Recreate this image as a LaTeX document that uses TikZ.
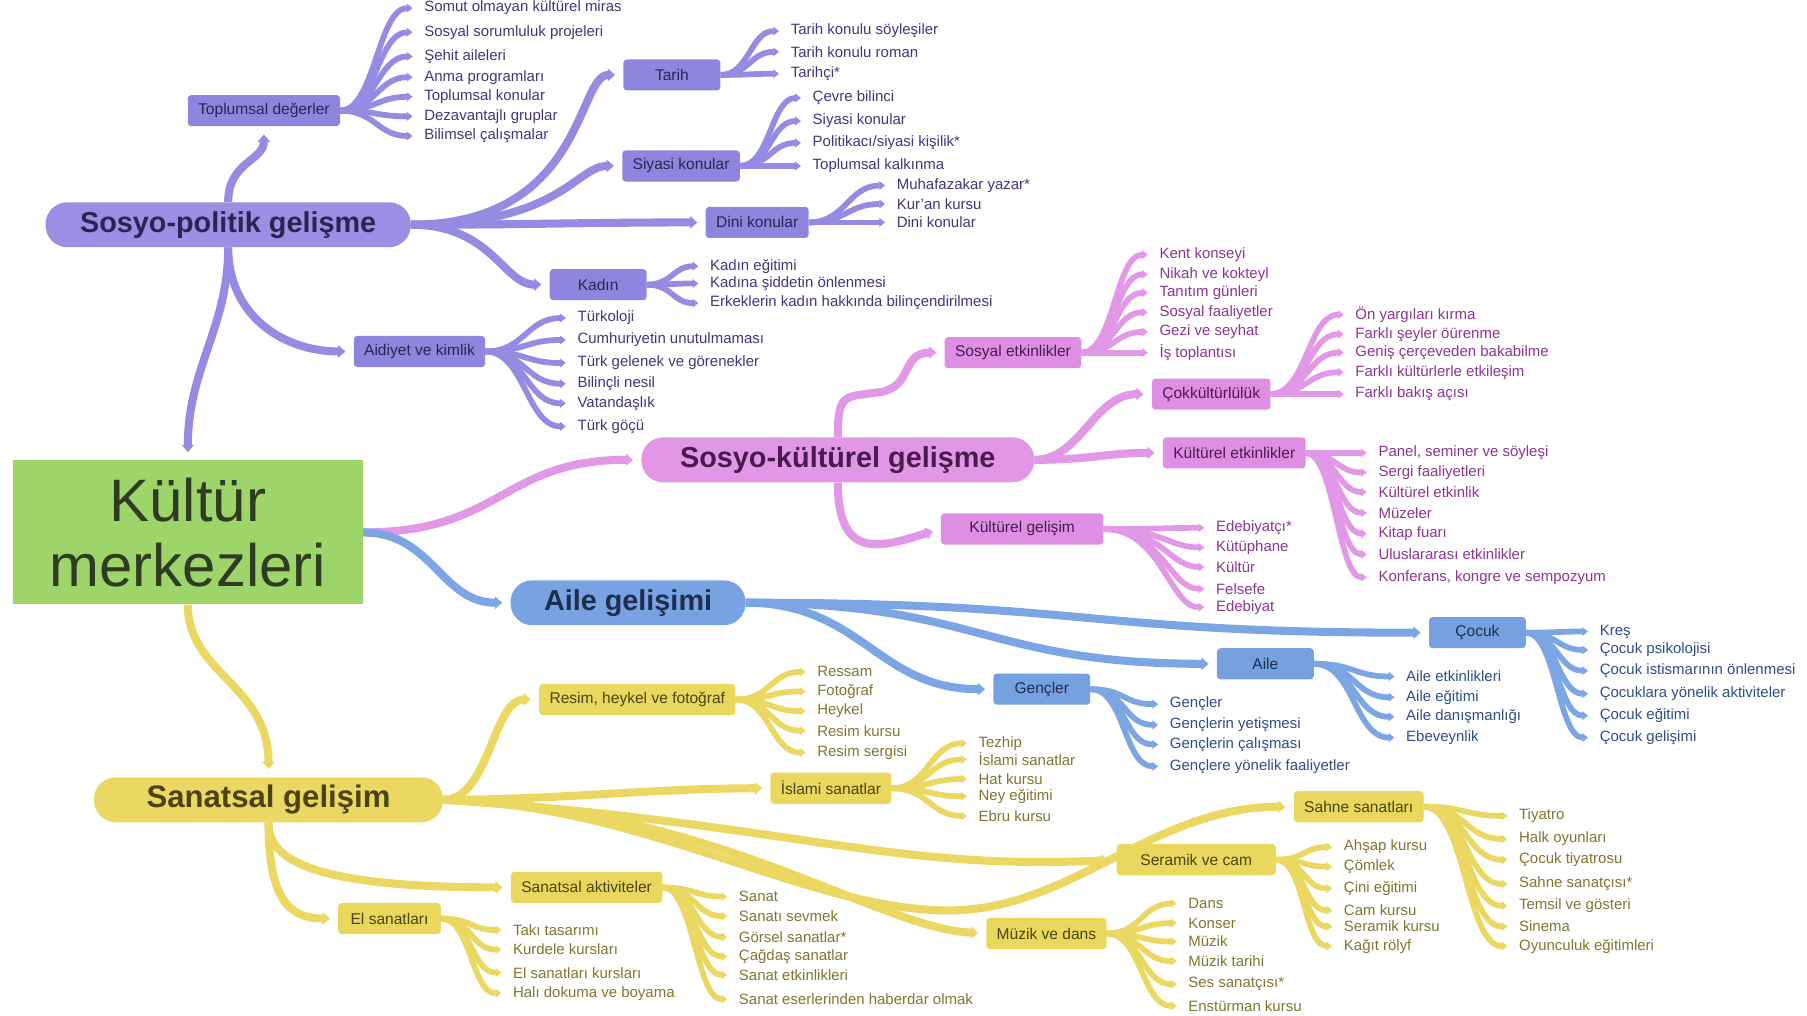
\documentclass[tikz,border=0pt]{standalone}
\usepackage{fontspec}
\setmainfont{Liberation Sans}
\usetikzlibrary{arrows.meta}

\definecolor{pfill}{HTML}{9A8FE4}
\definecolor{pbox}{HTML}{8F85DF}
\definecolor{pline}{HTML}{958BE2}
\definecolor{ptxt}{HTML}{3D3878}
\definecolor{pdark}{HTML}{2A2550}
\definecolor{kfill}{HTML}{E196E6}
\definecolor{kbox}{HTML}{DE8FE3}
\definecolor{kline}{HTML}{E199E7}
\definecolor{ktxt}{HTML}{8C3590}
\definecolor{kdark}{HTML}{4A1A4C}
\definecolor{bfill}{HTML}{78A2E2}
\definecolor{bbox}{HTML}{76A1E1}
\definecolor{bline}{HTML}{7BA6E3}
\definecolor{btxt}{HTML}{2F4D85}
\definecolor{bdark}{HTML}{1E2E4E}
\definecolor{yfill}{HTML}{EAD862}
\definecolor{ybox}{HTML}{EAD75E}
\definecolor{yline}{HTML}{EAD862}
\definecolor{ytxt}{HTML}{807530}
\definecolor{ydark}{HTML}{4A4412}
\definecolor{gfill}{HTML}{9DD56B}
\definecolor{gdark}{HTML}{2F3B22}

\tikzset{
  box/.style 2 args={fill=#1,text=#2,rounded corners=3pt,minimum width=84pt,minimum height=27pt,inner xsep=9pt,font=\fontsize{13.5}{15}\selectfont},
  pb/.style={box={pbox}{pdark}},
  kb/.style={box={kbox}{kdark}},
  bb/.style={box={bbox}{bdark}},
  yb/.style={box={ybox}{ydark}},
  pill/.style 2 args={fill=#1,text=#2,rounded corners=19pt,minimum height=39pt,font=\fontsize{25}{28}\selectfont\bfseries},
  leaf/.style={anchor=west,inner xsep=10pt,inner ysep=1pt,text=#1,font=\fontsize{13}{15}\selectfont},
  branch/.style={draw=#1,line width=7pt,shorten >=7pt,-{Triangle[length=0pt 0.9,width=0pt 1.5]}},
  twig/.style={draw=#1,line width=5pt,-{Triangle[length=0pt 1,width=0pt 1.5]}},
}

\begin{document}
\begin{tikzpicture}[x=1pt,y=-1pt]
\useasboundingbox (0,0) rectangle (1568,881);

% centre and main topics
\node[fill=gfill,text=gdark,minimum width=304pt,minimum height=125pt,align=center,font=\fontsize{52}{57}\selectfont] (merkez) at (163,462) {Kültür\\merkezleri};
\node[pill={pfill}{pdark},minimum width=317pt] (sospol) at (198,195) {Sosyo-politik gelişme};
\node[pill={kfill}{kdark},minimum width=341pt] (soskul) at (727,399) {Sosyo-kültürel gelişme};
\node[pill={bfill}{bdark},minimum width=204pt] (ailegel) at (545,523) {Aile gelişimi};
\node[pill={yfill}{ydark},minimum width=303pt,font=\fontsize{27}{30}\selectfont\bfseries] (sanat) at (233,694) {Sanatsal gelişim};

\draw[branch=pline] (sospol.south) .. controls +(0,70) and +(0,-80) .. (merkez.north);
\draw[branch=kline] (merkez.east) .. controls +(120,0) and +(-120,0) .. (soskul.west);
\draw[branch=bline] (merkez.east) .. controls +(60,0) and +(-60,0) .. (ailegel.west);
\draw[branch=yline] (merkez.south) .. controls +(0,60) and +(0,-80) .. (sanat.north);

% sosyo-politik
\node[pb] (toplumsal) at (229,96) {Toplumsal değerler};
\node[pb] (tarih) at (583,65) {Tarih};
\node[pb] (siyasi) at (591,144) {Siyasi konular};
\node[pb] (dini) at (657,193) {Dini konular};
\node[pb] (kadin) at (519,247) {Kadın};
\node[pb] (aidiyet) at (364,305) {Aidiyet ve kimlik};

\draw[branch=pline] (sospol.north) .. controls +(0,-35) and +(0,30) .. (toplumsal.south);
\draw[branch=pline] (sospol.east) .. controls +(150,0) and +(-40,0) .. (tarih.west);
\draw[branch=pline] (sospol.east) .. controls +(130,0) and +(-40,0) .. (siyasi.west);
\draw[branch=pline] (sospol.east) .. controls +(100,0) and +(-100,0) .. (dini.west);
\draw[branch=pline] (sospol.east) .. controls +(70,0) and +(-40,0) .. (kadin.west);
\draw[branch=pline] (sospol.south) .. controls +(0,60) and +(-60,0) .. (aidiyet.west);

\foreach \t/\y [count=\i] in {Somut olmayan kültürel miras/7,Sosyal sorumluluk projeleri/28,Şehit aileleri/49,Anma programları/67,Toplumsal konular/84,Dezavantajlı gruplar/101,Bilimsel çalışmalar/118}{
  \node[leaf=ptxt] (toplumsal-\i) at (358,\y) {\t};
  \draw[twig=pline] (toplumsal.east) .. controls +(30,0) and +(-30,0) .. (toplumsal-\i.west);
}
\foreach \t/\y [count=\i] in {Tarih konulu söyleşiler/27,Tarih konulu roman/45,Tarihçi*/64}{
  \node[leaf=ptxt] (tarih-\i) at (676,\y) {\t};
  \draw[twig=pline] (tarih.east) .. controls +(25,0) and +(-25,0) .. (tarih-\i.west);
}
\foreach \t/\y [count=\i] in {Çevre bilinci/85,Siyasi konular/105,{Politikacı/siyasi kişilik*}/124,Toplumsal kalkınma/144}{
  \node[leaf=ptxt] (siyasi-\i) at (695,\y) {\t};
  \draw[twig=pline] (siyasi.east) .. controls +(26,0) and +(-26,0) .. (siyasi-\i.west);
}
\foreach \t/\y [count=\i] in {Muhafazakar yazar*/161,Kur'an kursu/177,Dini konular/193}{
  \node[leaf=ptxt] (dini-\i) at (768,\y) {\t};
  \draw[twig=pline] (dini.east) .. controls +(32,0) and +(-32,0) .. (dini-\i.west);
}
\foreach \t/\y [count=\i] in {Kadın eğitimi/231,Kadına şiddetin önlenmesi/246,Erkeklerin kadın hakkında bilinçendirilmesi/263}{
  \node[leaf=ptxt] (kadin-\i) at (606,\y) {\t};
  \draw[twig=pline] (kadin.east) .. controls +(22,0) and +(-22,0) .. (kadin-\i.west);
}
\foreach \t/\y [count=\i] in {Türkoloji/276,Cumhuriyetin unutulmaması/295,Türk gelenek ve görenekler/315,Bilinçli nesil/333,Vatandaşlık/350,Türk göçü/370}{
  \node[leaf=ptxt] (aidiyet-\i) at (491,\y) {\t};
  \draw[twig=pline] (aidiyet.east) .. controls +(34,0) and +(-34,0) .. (aidiyet-\i.west);
}

% sosyo-kulturel
\node[kb] (sosyal) at (879,306) {Sosyal etkinlikler};
\node[kb] (cokkultur) at (1051,342) {Çokkültürlülük};
\node[kb] (kultetk) at (1071,393) {Kültürel etkinlikler};
\node[kb,minimum width=141pt] (kultgel) at (887,459) {Kültürel gelişim};

\draw[branch=kline] (soskul.north) .. controls +(0,-40) and (733,345) .. (765,340) .. controls (792,335) and (782,306) .. (sosyal.west);
\draw[branch=kline] (soskul.east) .. controls +(40,0) and +(-50,0) .. (cokkultur.west);
\draw[branch=kline] (soskul.east) .. controls +(50,0) and +(-50,0) .. (kultetk.west);
\draw[branch=kline] (soskul.south) .. controls +(0,70) and +(-50,15) .. (kultgel.west);

\foreach \t/\y [count=\i] in {Kent konseyi/221,Nikah ve kokteyl/238,Tanıtım günleri/254,Sosyal faaliyetler/271,Gezi ve seyhat/288,İş toplantısı/306}{
  \node[leaf=ktxt] (sosyal-\i) at (996,\y) {\t};
  \draw[twig=kline] (sosyal.east) .. controls +(28,0) and +(-28,0) .. (sosyal-\i.west);
}
\foreach \t/\y [count=\i] in {Ön yargıları kırma/273,Farklı şeyler öürenme/290,Geniş çerçeveden bakabilme/306,Farklı kültürlerle etkileşim/323,Farklı bakış açısı/342}{
  \node[leaf=ktxt] (cokkultur-\i) at (1166,\y) {\t};
  \draw[twig=kline] (cokkultur.east) .. controls +(31,0) and +(-31,0) .. (cokkultur-\i.west);
}
\foreach \t/\y [count=\i] in {{Panel, seminer ve söyleşi}/393,Sergi faaliyetleri/410,Kültürel etkinlik/427,Müzeler/445,Kitap fuarı/463,Uluslararası etkinlikler/481,{Konferans, kongre ve sempozyum}/501}{
  \node[leaf=ktxt] (kultetk-\i) at (1186,\y) {\t};
  \draw[twig=kline] (kultetk.east) .. controls +(25,0) and +(-25,0) .. (kultetk-\i.west);
}
\foreach \t/\y [count=\i] in {Edebiyatçı*/458,Kütüphane/475,Kültür/492,Felsefe/511,Edebiyat/527}{
  \node[leaf=ktxt] (kultgel-\i) at (1045,\y) {\t};
  \draw[twig=kline] (kultgel.east) .. controls +(50,0) and +(-30,0) .. (kultgel-\i.west);
}

% aile
\node[bb] (cocuk) at (1282,549) {Çocuk};
\node[bb] (aile) at (1098,576) {Aile};
\node[bb] (gencler) at (904,598) {Gençler};

\draw[branch=bline] (ailegel.east) .. controls +(300,0) and +(-300,0) .. (cocuk.west);
\draw[branch=bline] (ailegel.east) .. controls +(200,0) and +(-200,0) .. (aile.west);
\draw[branch=bline] (ailegel.east) .. controls +(100,0) and +(-100,0) .. (gencler.west);

\foreach \t/\y [count=\i] in {Kreş/548,Çocuk psikolojisi/564,Çocuk istismarının önlenmesi/582,Çocuklara yönelik aktiviteler/602,Çocuk eğitimi/621,Çocuk gelişimi/640}{
  \node[leaf=btxt] (cocuk-\i) at (1378,\y) {\t};
  \draw[twig=bline] (cocuk.east) .. controls +(26,0) and +(-26,0) .. (cocuk-\i.west);
}
\foreach \t/\y [count=\i] in {Aile etkinlikleri/587,Aile eğitimi/605,Aile danışmanlığı/622,Ebeveynlik/640}{
  \node[leaf=btxt] (aile-\i) at (1210,\y) {\t};
  \draw[twig=bline] (aile.east) .. controls +(35,0) and +(-35,0) .. (aile-\i.west);
}
\foreach \t/\y [count=\i] in {Gençler/611,Gençlerin yetişmesi/629,Gençlerin çalışması/646,Gençlere yönelik faaliyetler/665}{
  \node[leaf=btxt] (gencler-\i) at (1005,\y) {\t};
  \draw[twig=bline] (gencler.east) .. controls +(30,0) and +(-30,0) .. (gencler-\i.west);
}

% sanatsal
\node[yb] (resim) at (553,607) {Resim, heykel ve fotoğraf};
\node[yb] (islami) at (721,684) {İslami sanatlar};
\node[yb] (sahne) at (1179,700) {Sahne sanatları};
\node[yb,minimum width=138pt] (seramik) at (1038,746) {Seramik ve cam};
\node[yb] (sanakt) at (509,770) {Sanatsal aktiviteler};
\node[yb,minimum width=89pt] (elsan) at (338,797) {El sanatları};
\node[yb] (muzik) at (908,810) {Müzik ve dans};

\draw[branch=yline] (sanat.east) .. controls +(40,0) and +(-40,0) .. (resim.west);
\draw[branch=yline] (sanat.east) .. controls +(100,0) and +(-100,0) .. (islami.west);
\draw[branch=yline] (sanat.east) .. controls (560,698) and (700,790) .. (823,790) .. controls (930,790) and (1000,700) .. (sahne.west);
\draw[branch=yline] (sanat.east) .. controls +(300,20) and +(-200,10) .. (seramik.west);
\draw[branch=yline] (sanat.east) .. controls +(235,6) and +(-96,-5) .. (muzik.west);
\draw[branch=yline] (sanat.south) .. controls +(0,30) and +(-180,0) .. (sanakt.west);
\draw[branch=yline] (sanat.south) .. controls +(0,70) and +(-40,0) .. (elsan.west);

\foreach \t/\y [count=\i] in {Ressam/583,Fotoğraf/600,Heykel/617,Resim kursu/634,Resim sergisi/653}{
  \node[leaf=ytxt] (resim-\i) at (699,\y) {\t};
  \draw[twig=yline] (resim.east) .. controls +(30,0) and +(-30,0) .. (resim-\i.west);
}
\foreach \t/\y [count=\i] in {Tezhip/645,İslami sanatlar/659,Hat kursu/676,Ney eğitimi/691,Ebru kursu/708}{
  \node[leaf=ytxt] (islami-\i) at (839,\y) {\t};
  \draw[twig=yline] (islami.east) .. controls +(32,0) and +(-32,0) .. (islami-\i.west);
}
\foreach \t/\y [count=\i] in {Tiyatro/708,Halk oyunları/728,Çocuk tiyatrosu/746,Sahne sanatçısı*/767,Temsil ve gösteri/786,Sinema/804,Oyunculuk eğitimleri/821}{
  \node[leaf=ytxt] (sahne-\i) at (1308,\y) {\t};
  \draw[twig=yline] (sahne.east) .. controls +(36,0) and +(-36,0) .. (sahne-\i.west);
}
\foreach \t/\y [count=\i] in {Ahşap kursu/735,Çömlek/752,Çini eğitimi/771,Cam kursu/790,Seramik kursu/804,Kağıt rölyf/821}{
  \node[leaf=ytxt] (seramik-\i) at (1156,\y) {\t};
  \draw[twig=yline] (seramik.east) .. controls +(25,0) and +(-25,0) .. (seramik-\i.west);
}
\foreach \t/\y [count=\i] in {Sanat/778,Sanatı sevmek/795,Görsel sanatlar*/813,Çağdaş sanatlar/830,Sanat etkinlikleri/846,Sanat eserlerinden haberdar olmak/867}{
  \node[leaf=ytxt] (sanakt-\i) at (631,\y) {\t};
  \draw[twig=yline] (sanakt.east) .. controls +(27,0) and +(-27,0) .. (sanakt-\i.west);
}
\foreach \t/\y [count=\i] in {Takı tasarımı/807,Kurdele kursları/824,El sanatları kursları/844,Halı dokuma ve boyama/862}{
  \node[leaf=ytxt] (elsan-\i) at (435,\y) {\t};
  \draw[twig=yline] (elsan.east) .. controls +(26,0) and +(-26,0) .. (elsan-\i.west);
}
\foreach \t/\y [count=\i] in {Dans/784,Konser/801,Müzik/817,Müzik tarihi/834,Ses sanatçısı*/854,Enstürman kursu/873}{
  \node[leaf=ytxt] (muzik-\i) at (1021,\y) {\t};
  \draw[twig=yline] (muzik.east) .. controls +(30,0) and +(-30,0) .. (muzik-\i.west);
}
\end{tikzpicture}
\end{document}
